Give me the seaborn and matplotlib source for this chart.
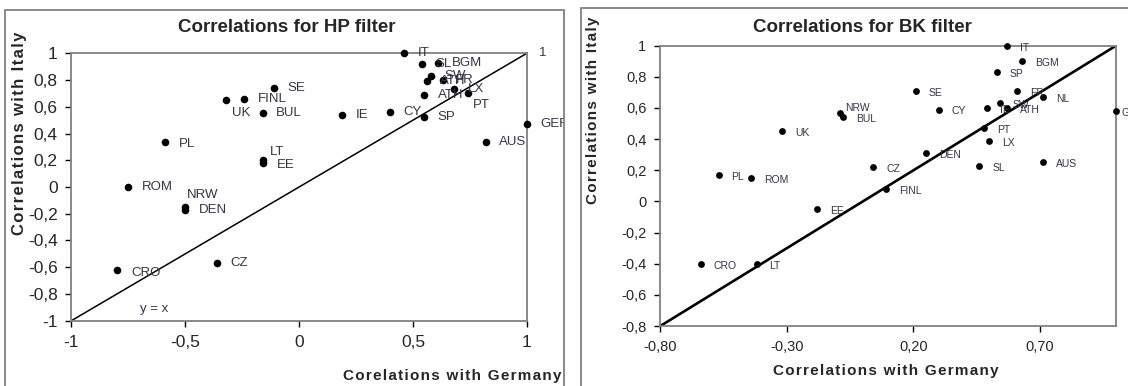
import matplotlib
matplotlib.use('Agg')
import matplotlib.pyplot as plt
from matplotlib.patches import Rectangle
import seaborn as sns
import pandas as pd

# HP filter correlations
hp_country = ['IT', 'SL', 'BGM', 'SW', 'ATH', 'FR', 'LX', 'PT', 'ATH', 'SP',
              'CY', 'IE', 'SE', 'FINL', 'UK', 'BUL', 'PL', 'LT', 'EE', 'ROM',
              'NRW', 'DEN', 'CRO', 'CZ', 'AUS', 'GER']
hp_germany = [0.46, 0.54, 0.61, 0.58, 0.56, 0.63, 0.68, 0.74, 0.55, 0.55,
              0.40, 0.19, -0.11, -0.24, -0.32, -0.16, -0.59, -0.16, -0.16, -0.75,
              -0.50, -0.50, -0.80, -0.36, 0.82, 1.00]
hp_italy = [1.00, 0.92, 0.93, 0.83, 0.79, 0.80, 0.73, 0.70, 0.69, 0.52,
            0.56, 0.54, 0.74, 0.66, 0.65, 0.55, 0.34, 0.20, 0.18, 0.00,
            -0.15, -0.17, -0.62, -0.57, 0.34, 0.47]

# BK filter correlations
bk_country = ['IT', 'BGM', 'SP', 'SE', 'FR', 'NL', 'SW', 'IE', 'ATH', 'CY',
              'NRW', 'BUL', 'UK', 'PT', 'LX', 'DEN', 'AUS', 'SL', 'CZ', 'PL',
              'ROM', 'FINL', 'EE', 'CRO', 'LT', 'GER']
bk_germany = [0.57, 0.63, 0.53, 0.21, 0.61, 0.71, 0.54, 0.49, 0.57, 0.30,
              -0.09, -0.08, -0.32, 0.48, 0.50, 0.25, 0.71, 0.46, 0.04, -0.57,
              -0.44, 0.09, -0.18, -0.64, -0.42, 1.00]
bk_italy = [1.00, 0.90, 0.83, 0.71, 0.71, 0.67, 0.63, 0.60, 0.60, 0.59,
            0.57, 0.54, 0.45, 0.47, 0.39, 0.31, 0.25, 0.23, 0.22, 0.17,
            0.15, 0.08, -0.05, -0.40, -0.40, 0.58]

hp_xticks = [-1, -0.5, 0, 0.5, 1]
hp_xlabels = ['-1', '-0,5', '0', '0,5', '1']
hp_yticks = [1, 0.8, 0.6, 0.4, 0.2, 0, -0.2, -0.4, -0.6, -0.8, -1]
hp_ylabels = ['1', '0,8', '0,6', '0,4', '0,2', '0', '-0,2', '-0,4', '-0,6', '-0,8', '-1']
bk_xticks = [-0.8, -0.3, 0.2, 0.7]
bk_xlabels = ['-0,80', '-0,30', '0,20', '0,70']
bk_yticks = [1, 0.8, 0.6, 0.4, 0.2, 0, -0.2, -0.4, -0.6, -0.8]
bk_ylabels = ['1', '0,8', '0,6', '0,4', '0,2', '0', '-0,2', '-0,4', '-0,6', '-0,8']

# label offsets (points) that differ from the default right-of-dot placement
hp_offsets = {'UK': (4, -9), 'LT': (5, 6), 'EE': (10, -1.5), 'NRW': (1, 9),
              'CRO': (10.5, -2), 'PT': (4, -8.5), 'PL': (10, -1.5)}
bk_offsets = {'NRW': (4, 3), 'GER': (4, -1.5)}

sns.set_theme(style='white')
plt.rcParams['font.family'] = ['Liberation Sans', 'DejaVu Sans']

LABEL_COLOR = '#343447'
SPINE_COLOR = '#808080'


def spaced(s):
    # hair spaces to mimic the letter-spaced axis titles
    return '\u200a'.join(s)


def draw_panel(ax, df, lo, xticks, xlabels, yticks, ylabels, offsets,
               default_off, label_size, tick_size, dot_size, line_w):
    ax.plot([lo, 1], [lo, 1], color='black', lw=line_w, zorder=2)
    sns.scatterplot(data=df, x='germany', y='italy', ax=ax, color='black',
                    s=dot_size, edgecolor='black', linewidth=0, zorder=3,
                    clip_on=False, legend=False)
    for _, row in df.iterrows():
        off = offsets.get(row['country'], default_off)
        ax.annotate(row['country'], (row['germany'], row['italy']), xytext=off,
                    textcoords='offset points', va='center', ha='left',
                    fontsize=label_size, color=LABEL_COLOR, annotation_clip=False)
    ax.set_xlim(lo, 1)
    ax.set_ylim(lo, 1)
    ax.set_xticks(xticks)
    ax.set_xticklabels(xlabels, fontsize=tick_size)
    ax.set_yticks(yticks)
    ax.set_yticklabels(ylabels, fontsize=tick_size)
    ax.tick_params(axis='both', which='both', direction='out', length=4,
                   width=1, color='black', pad=6, left=True, bottom=True)
    for sp in ax.spines.values():
        sp.set_color(SPINE_COLOR)
        sp.set_linewidth(1.3)
    ax.set_xlabel('')
    ax.set_ylabel('')
    ax.set_facecolor('white')


W, H = 1128, 386
fig = plt.figure(figsize=(W / 100, H / 100), dpi=100)
fig.patch.set_facecolor('white')

# chart area frames
fig.patches.append(Rectangle((5 / W, -0.1), 559 / W, 1.1 - 10 / H,
                             transform=fig.transFigure, fill=False,
                             edgecolor=SPINE_COLOR, lw=1.3, zorder=0.5))
fig.patches.append(Rectangle((581 / W, -0.1), 0.6, 1.1 - 8 / H,
                             transform=fig.transFigure, facecolor='white',
                             edgecolor=SPINE_COLOR, lw=1.3, zorder=1))

ax1 = fig.add_axes([71.4 / W, 1 - 320.7 / H, 455.4 / W, 267.4 / H], zorder=0)
ax2 = fig.add_axes([660.3 / W, 1 - 326 / H, 455.7 / W, 280.3 / H], zorder=2)

hp = pd.DataFrame({'country': hp_country, 'germany': hp_germany, 'italy': hp_italy})
bk = pd.DataFrame({'country': bk_country, 'germany': bk_germany, 'italy': bk_italy})

draw_panel(ax1, hp, -1, hp_xticks, hp_xlabels, hp_yticks, hp_ylabels,
           hp_offsets, (9.7, 0), 9.5, 12.5, 30, 1.1)
ax1.annotate('1', (1, 1), xytext=(9, 0), textcoords='offset points',
             va='center', fontsize=9.5, color=LABEL_COLOR, annotation_clip=False)
ax1.text(-0.70, -0.91, 'y = x', fontsize=9.5, color=LABEL_COLOR, va='center')

draw_panel(ax2, bk, -0.8, bk_xticks, bk_xlabels, bk_yticks, bk_ylabels,
           bk_offsets, (9.4, -1.4), 7.5, 10.5, 24, 1.9)

# clip left-panel labels at its chart frame
clip = Rectangle((5 / W, 0), 559 / W, 1, transform=fig.transFigure)
for t in ax1.texts:
    t.set_clip_path(clip)
    t.set_clip_on(True)

fig.text(286.6 / W, 1 - 28 / H, 'Correlations for HP filter', ha='center',
         va='center', fontsize=13.5, fontweight='bold')
fig.text(862.5 / W, 1 - 27 / H, 'Correlations for BK filter', ha='center',
         va='center', fontsize=13.5, fontweight='bold')

fig.text(19.6 / W, 1 - 133 / H, spaced('Correlations with Italy'), rotation=90,
         ha='center', va='center', fontsize=12, fontweight='bold')
fig.text(452 / W, 1 - 376 / H, spaced('Corelations with Germany'),
         ha='center', va='center', fontsize=11, fontweight='bold')
fig.text(592.6 / W, 1 - 110 / H, spaced('Correlations with Italy'), rotation=90,
         ha='center', va='center', fontsize=11, fontweight='bold', zorder=3)
fig.text(886 / W, 1 - 371 / H, spaced('Correlations with Germany'),
         ha='center', va='center', fontsize=11, fontweight='bold', zorder=3)

plt.savefig('out.png', dpi=100, facecolor='white')
plt.close()
